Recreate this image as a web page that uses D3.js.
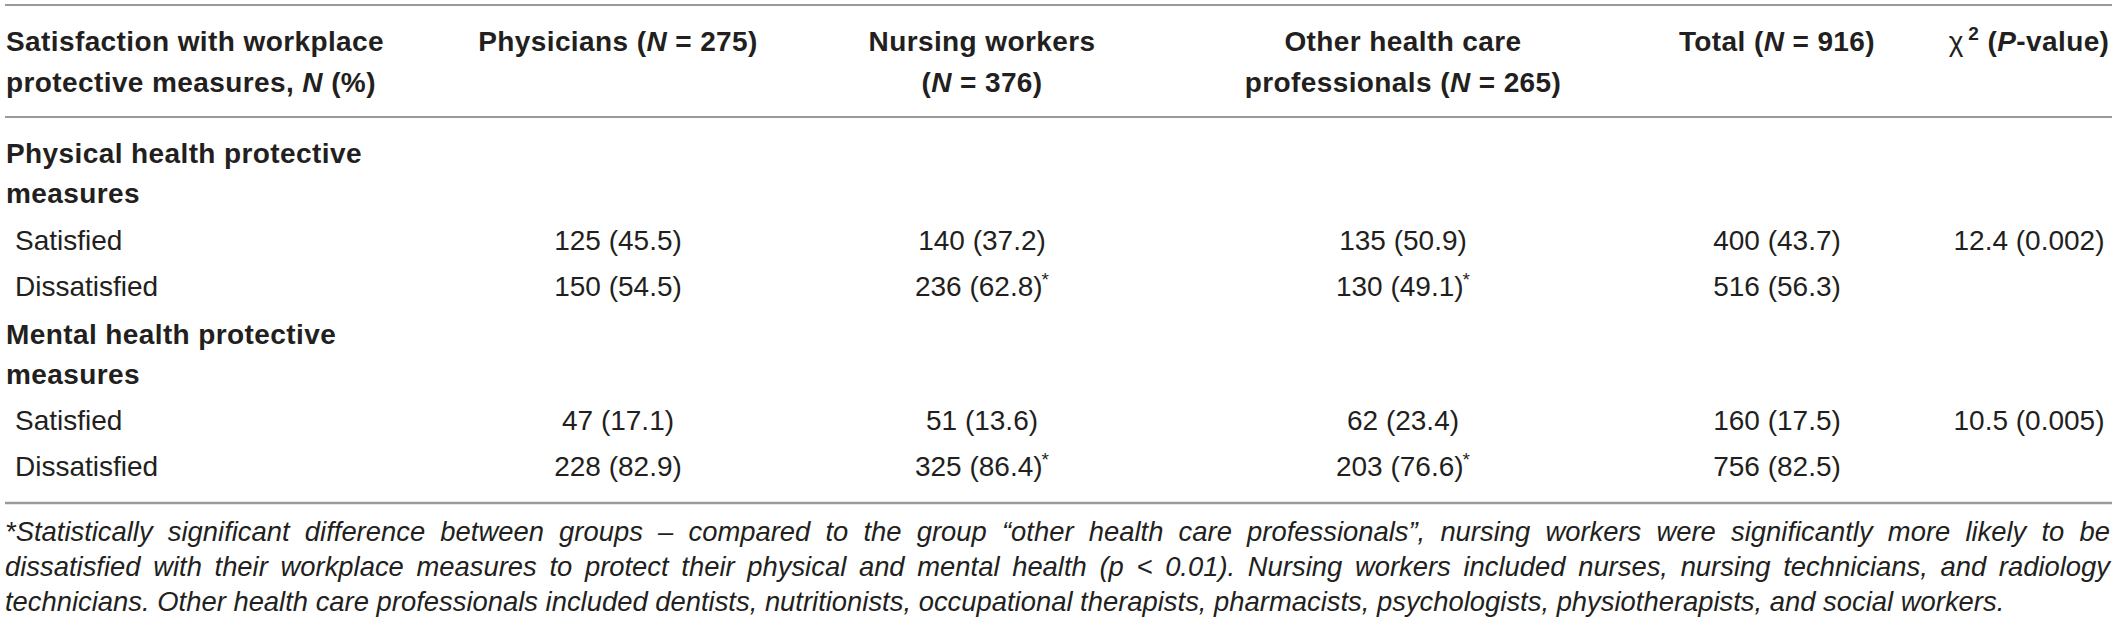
<!DOCTYPE html>
<html lang="en">
<head>
  <meta charset="UTF-8">
  <title>Satisfaction with workplace protective measures</title>
  <style>
    html, body { margin: 0; padding: 0; background: #fff; }
    svg text { font-family: "Liberation Sans", Arial, Helvetica, sans-serif; fill: #231f20; }
    .bold { font-weight: bold; letter-spacing: 0.4px; }
    .rule { stroke: #9a9a9a; }
  </style>
</head>
<body>
  <div id="chart"></div>

  <script src="https://d3js.org/d3.v7.min.js"></script>
  <script>
    // groups and sample sizes
    const groups = ["Physicians", "Nursing workers", "Other health care professionals", "Total"];
    const groupN = [275, 376, 265, 916];
    const levels = ["Satisfied", "Dissatisfied"];
    const sections = ["Physical health protective", "Mental health protective"];

    // counts and percentages, one array per row, order = groups
    const physicalSatisfied = [125, 140, 135, 400];
    const physicalSatisfiedPct = [45.5, 37.2, 50.9, 43.7];
    const physicalDissatisfied = [150, 236, 130, 516];
    const physicalDissatisfiedPct = [54.5, 62.8, 49.1, 56.3];
    const mentalSatisfied = [47, 51, 62, 160];
    const mentalSatisfiedPct = [17.1, 13.6, 23.4, 17.5];
    const mentalDissatisfied = [228, 325, 203, 756];
    const mentalDissatisfiedPct = [82.9, 86.4, 76.6, 82.5];
    // which cells carry the * mark (dissatisfied rows only)
    const starred = [false, true, true, false];

    const chiSquare = [12.4, 10.5];
    const pValues = ["0.002", "0.005"];

    const footnote = [
      "*Statistically significant difference between groups – compared to the group “other health care professionals”, nursing workers were significantly more likely to be",
      "dissatisfied with their workplace measures to protect their physical and mental health (p < 0.01). Nursing workers included nurses, nursing technicians, and radiology",
      "technicians. Other health care professionals included dentists, nutritionists, occupational therapists, pharmacists, psychologists, physiotherapists, and social workers."
    ];

    const width = 2118, height = 626;
    const fontSize = 28;
    const noteSize = 27.4;

    const svg = d3.select("#chart").append("svg")
      .attr("width", width).attr("height", height);

    // column centres (label column is left aligned)
    const colX = d3.scaleOrdinal()
      .domain(["label", "g0", "g1", "g2", "g3", "chi"])
      .range([6, 618, 982, 1403, 1777, 2029]);

    // row baselines
    const rowY = d3.scaleOrdinal()
      .domain(["h1", "h2", "s0a", "s0b", "s0-Satisfied", "s0-Dissatisfied", "s1a", "s1b", "s1-Satisfied", "s1-Dissatisfied", "f0", "f1", "f2"])
      .range([51, 92, 163, 203, 250, 296, 344, 384, 430, 476, 541, 576, 611]);

    const ruleY = [5, 117, 503];
    svg.append("g").selectAll("line")
      .data(ruleY)
      .join("line")
      .attr("class", "rule")
      .attr("x1", 5).attr("x2", 2112)
      .attr("y1", d => d).attr("y2", d => d)
      .attr("stroke-width", (d, i) => i === 2 ? 2.5 : 2);

    // write a text made of runs: [text, italic?]
    function runs(sel, parts) {
      parts.forEach(p => {
        const t = sel.append("tspan").text(p[0]);
        if (p[1]) t.style("font-style", "italic");
      });
      return sel;
    }

    function headerText(x, y, anchor, parts) {
      const t = svg.append("text")
        .attr("class", "bold")
        .attr("x", x).attr("y", y)
        .attr("text-anchor", anchor)
        .style("font-size", fontSize + "px");
      return runs(t, parts);
    }

    // header
    headerText(colX("label"), rowY("h1"), "start", [["Satisfaction with workplace"]]);
    headerText(colX("label"), rowY("h2"), "start", [["protective measures, "], ["N", true], [" (%)"]]);

    const groupHeader = [
      [[groups[0] + " ("], ["N", true], [" = " + groupN[0] + ")"]],
      [[groups[1]]],
      [["Other health care"]],
      [[groups[3] + " ("], ["N", true], [" = " + groupN[3] + ")"]]
    ];
    const groupHeader2 = [
      null,
      [["("], ["N", true], [" = " + groupN[1] + ")"]],
      [["professionals ("], ["N", true], [" = " + groupN[2] + ")"]],
      null
    ];
    groups.forEach((g, i) => {
      headerText(colX("g" + i), rowY("h1"), "middle", groupHeader[i]);
      if (groupHeader2[i]) headerText(colX("g" + i), rowY("h2"), "middle", groupHeader2[i]);
    });

    // chi-square header
    const chiHead = svg.append("text")
      .attr("x", colX("chi")).attr("y", rowY("h1"))
      .attr("text-anchor", "middle")
      .style("font-size", fontSize + "px");
    chiHead.append("tspan").text("χ");
    chiHead.append("tspan").attr("class", "bold").attr("dx", 5).attr("dy", -11)
      .style("font-size", "19px").text("2");
    chiHead.append("tspan").attr("class", "bold").attr("dy", 11).text(" (");
    chiHead.append("tspan").attr("class", "bold").style("font-style", "italic").text("P");
    chiHead.append("tspan").attr("class", "bold").text("-value)");

    // body rows
    const tableRows = [
      { sec: 0, level: "Satisfied", n: physicalSatisfied, pct: physicalSatisfiedPct, star: false },
      { sec: 0, level: "Dissatisfied", n: physicalDissatisfied, pct: physicalDissatisfiedPct, star: true },
      { sec: 1, level: "Satisfied", n: mentalSatisfied, pct: mentalSatisfiedPct, star: false },
      { sec: 1, level: "Dissatisfied", n: mentalDissatisfied, pct: mentalDissatisfiedPct, star: true }
    ];

    sections.forEach((s, i) => {
      headerText(colX("label"), rowY("s" + i + "a"), "start", [[s]]);
      headerText(colX("label"), rowY("s" + i + "b"), "start", [["measures"]]);
    });

    tableRows.forEach(r => {
      const y = rowY("s" + r.sec + "-" + r.level);
      svg.append("text")
        .attr("x", colX("label") + 9).attr("y", y)
        .style("font-size", fontSize + "px")
        .text(r.level);

      const cells = svg.append("g").selectAll("text")
        .data(r.n.map((n, i) => ({ n, pct: r.pct[i], star: r.star && starred[i], col: "g" + i })))
        .join("text")
        .attr("x", d => colX(d.col)).attr("y", y)
        .attr("text-anchor", "middle")
        .style("font-size", fontSize + "px");
      cells.append("tspan").text(d => d.n + " (" + d.pct.toFixed(1) + ")");
      cells.filter(d => d.star).append("tspan")
        .attr("dx", -1).attr("dy", -10).style("font-size", "19px").text("*");

      if (r.level === "Satisfied") {
        svg.append("text")
          .attr("x", colX("chi")).attr("y", y)
          .attr("text-anchor", "middle")
          .style("font-size", fontSize + "px")
          .text(chiSquare[r.sec].toFixed(1) + " (" + pValues[r.sec] + ")");
      }
    });

    // footnote, justified except the last line
    const noteLeft = 5, noteRight = 2110;
    footnote.forEach((line, li) => {
      const words = line.split(" ");
      const t = svg.append("text")
        .attr("y", rowY("f" + li))
        .style("font-size", noteSize + "px")
        .style("font-style", "italic");
      const spans = words.map(w => t.append("tspan").text(w));
      const space = 0.278 * noteSize;
      const widths = spans.map(s => s.node().getComputedTextLength());
      const total = d3.sum(widths);
      const gap = li < footnote.length - 1 ? (noteRight - noteLeft - total) / (words.length - 1) : space;
      let x = noteLeft;
      spans.forEach((s, i) => {
        s.attr("x", x);
        x += widths[i] + gap;
      });
    });
  </script>
</body>
</html>
